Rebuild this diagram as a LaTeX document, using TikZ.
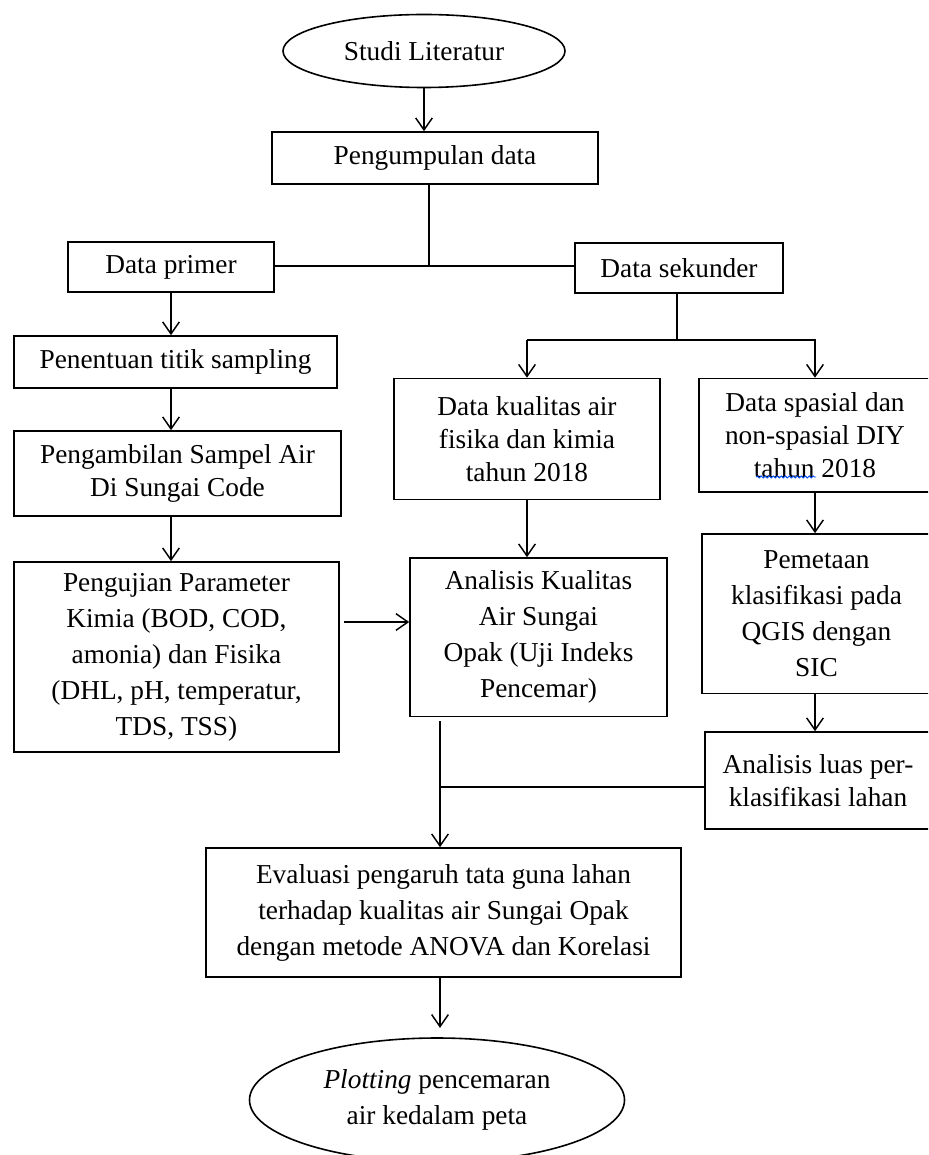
\documentclass[tikz,border=0pt]{standalone}
\usepackage{fontspec}
\setmainfont{Liberation Serif}
\usetikzlibrary{arrows.meta,shapes.geometric,decorations.pathmorphing}
\begin{document}
\begin{tikzpicture}[x=0.75pt,y=-0.75pt,
  box/.style={draw,line width=1.2pt,inner sep=0pt,align=center,
    font=\fontsize{20.5}{27}\selectfont},
  tight/.style={font=\fontsize{20.5}{24.5}\selectfont},
  oval/.style={draw,ellipse,line width=1.2pt,inner sep=0pt,align=center,
    font=\fontsize{20.5}{26.5}\selectfont},
  arr/.style={line width=1.2pt,-{Straight Barb[length=9pt,width=12.5pt,line width=1.1pt]}},
  ln/.style={line width=1.2pt}]
\useasboundingbox (0,0) rectangle (928,1155);
\clip (0,0) rectangle (928,1155);

\node[oval,minimum width=211.5pt,minimum height=54.75pt] (studi) at (424,51) {Studi Literatur};
\node[box,minimum width=244.5pt,minimum height=39pt] (peng) at (435,158) {Pengumpulan data};
\node[box,minimum width=154.5pt,minimum height=37.5pt] (primer) at (171,267) {Data primer};
\node[box,minimum width=156pt,minimum height=37.5pt] (sek) at (679,268) {Data sekunder};
\node[box,minimum width=242.25pt,minimum height=39pt] (tentu) at (175.5,362) {Penentuan titik sampling};
\node[box,tight,minimum width=245.25pt,minimum height=63.75pt] (ambil) at (177.5,473.5) {Pengambilan Sampel Air\\Di Sungai Code};
\node[box,minimum width=243.75pt,minimum height=142.5pt] (uji) at (176.5,657) {Pengujian Parameter\\Kimia (BOD, COD,\\amonia) dan Fisika\\(DHL, pH, temperatur,\\TDS, TSS)};
\node[box,tight,minimum width=199.5pt,minimum height=90.75pt] (kual) at (527,439) {Data kualitas air\\fisika dan kimia\\tahun 2018};
\node[box,tight,minimum width=174pt,minimum height=85.125pt] (spas) at (815,435.25) {Data spasial dan\\non-spasial DIY\\tahun 2018};
\node[box,minimum width=192.75pt,minimum height=118.875pt] (anal) at (538.5,637.25) {Analisis Kualitas\\Air Sungai\\Opak (Uji Indeks\\Pencemar)};
\node[box,minimum width=171.75pt,minimum height=119.625pt] (peta) at (816.5,613.75) {Pemetaan\\klasifikasi pada\\QGIS dengan\\SIC};
\node[box,tight,minimum width=169.5pt,minimum height=72.75pt] (luas) at (818,780.5) {Analisis luas per-\\klasifikasi lahan};
\node[box,minimum width=356.25pt,minimum height=96.75pt] (eval) at (443.5,912.5) {Evaluasi pengaruh tata guna lahan\\terhadap kualitas air Sungai Opak\\dengan metode ANOVA dan Korelasi};
\node[oval,minimum width=281.25pt,minimum height=93pt] (plot) at (437,1100) {\textit{Plotting} pencemaran\\air kedalam peta};

% connectors
\draw[arr] (studi.south) -- (studi.south |- peng.north);
\coordinate (j1) at (429,266);
\draw[ln] (peng.south -| j1) -- (j1);
\draw[ln] (primer.east |- j1) -- (sek.west |- j1);
\draw[arr] (primer.south) -- (primer.south |- tentu.north);
\draw[arr] (tentu.south -| primer.south) -- (ambil.north -| primer.south);
\draw[arr] (ambil.south -| primer.south) -- (uji.north -| primer.south);
\coordinate (a1) at (0,622);
\draw[arr,shorten <=3pt] (uji.east |- a1) -- (anal.west |- a1);

\coordinate (s1) at (677,340);
\draw[ln] (sek.south -| s1) -- (s1);
\draw[arr] (s1 -| kual.north) -- (kual.north);
\draw[arr] (s1 -| kual.north) -- (s1 -| spas.north) -- (spas.north);
\draw[arr] (kual.south) -- (kual.south |- anal.north);
\draw[arr] (spas.south) -- (spas.south |- peta.north);
\draw[arr] (peta.south -| spas.south) -- (luas.north -| spas.south);

\coordinate (m1) at (440,787);
\draw[ln,shorten <=3pt] (anal.south -| m1) -- (m1);
\draw[ln] (luas.west |- m1) -- (m1);
\draw[arr] (m1) -- (eval.north -| m1);
\draw[arr,shorten >=7pt] (eval.south -| m1) -- (plot.north -| m1);

% spell-check underline
\draw[blue!70!cyan,line width=0.6pt,decorate,decoration={snake,amplitude=0.8pt,segment length=3pt}] (756,477) -- (816,477);
\end{tikzpicture}
\end{document}
